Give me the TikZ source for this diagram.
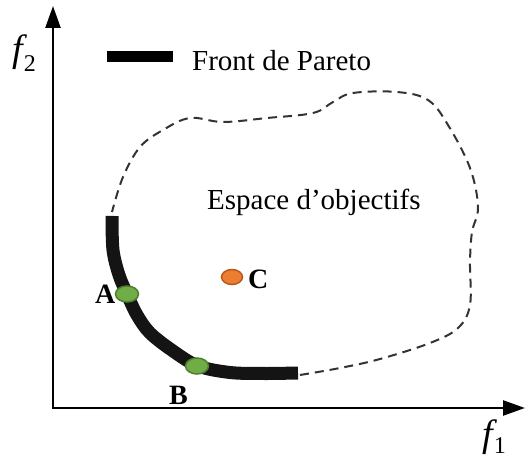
\documentclass[tikz,border=0pt]{standalone}
\usepackage{fontspec}
\setmainfont{Liberation Serif}
\usetikzlibrary{arrows.meta,shapes.geometric}
\definecolor{ptgreen}{HTML}{70AD47}
\definecolor{ptgreenb}{HTML}{4E7F31}
\definecolor{ptorange}{HTML}{ED7D31}
\definecolor{ptorangeb}{HTML}{B85A1C}
\begin{document}
\begin{tikzpicture}[x=1pt,y=-1pt,
  axis/.style={line width=2.4pt,-{Triangle[length=22pt,width=15pt]}},
  front/.style={line width=13pt,black!92},
  region/.style={line width=2pt,black!80,dash pattern=on 9pt off 6pt},
  lbl/.style={inner sep=0pt,font=\fontsize{29}{30}\selectfont},
  ptlbl/.style={inner sep=0pt,font=\fontsize{28}{28}\selectfont\bfseries},
  gdot/.style={ellipse,draw=ptgreenb,fill=ptgreen,line width=1.5pt,minimum width=23pt,minimum height=16pt,inner sep=0pt},
  odot/.style={ellipse,draw=ptorangeb,fill=ptorange,line width=1.5pt,minimum width=21pt,minimum height=15pt,inner sep=0pt}
]
\useasboundingbox (0,0) rectangle (525,462);
% axes
\coordinate (O) at (53,408);
\coordinate (Ytip) at (53,6);
\coordinate (Xtip) at (525,408);
\draw[axis] (O) -- (Ytip);
\draw[axis] ([xshift=-1pt]O) -- (Xtip);
\node[inner sep=0pt,anchor=base west] (f2) at (12,62) {\fontsize{38}{38}\selectfont\itshape f\kern1pt\raisebox{-10pt}{\fontsize{24}{24}\selectfont\upshape 2}};
\node[inner sep=0pt,anchor=base west] (f1) at (482,446) {\fontsize{38}{38}\selectfont\itshape f\kern1pt\raisebox{-8pt}{\fontsize{24}{24}\selectfont\upshape 1}};
% legend
\coordinate (L1) at (107,56.5);
\coordinate (L2) at (173,56.5);
\draw[line width=11pt] (L1) -- (L2);
\node[lbl,anchor=base west] (leg) at (192,71) {Front de Pareto};
% objective space boundary
\draw[region] plot[smooth,tension=0.6] coordinates {(300,375) (340,368) (380,359) (430,343) (458,328) (470,305) (470,262) (472,232) (478,207) (470,168) (448,125) (428,100) (397,92) (353,93) (333,102) (313,113) (267,118) (223,122) (190,118) (163,130) (140,147) (123,177) (112,212)};
% Pareto front
\draw[front] plot[smooth,tension=0.55] coordinates {(112,216) (113,250) (119,275) (127,294) (137,315) (150,333) (173,351) (198,366) (230,372.5) (263,373.5) (298,373)};
\node[lbl,anchor=base west] (esp) at (207,210) {Espace d’objectifs};
% points
\node[gdot] (A) at (127,294) {};
\node[gdot] (B) at (197,366) {};
\node[odot] (C) at (232,277) {};
\node[ptlbl,anchor=base west] (Al) at (95,304) {A};
\node[ptlbl,anchor=base west] (Bl) at (169,404) {B};
\node[ptlbl,anchor=base west] (Cl) at (248,289) {C};
\end{tikzpicture}
\end{document}
